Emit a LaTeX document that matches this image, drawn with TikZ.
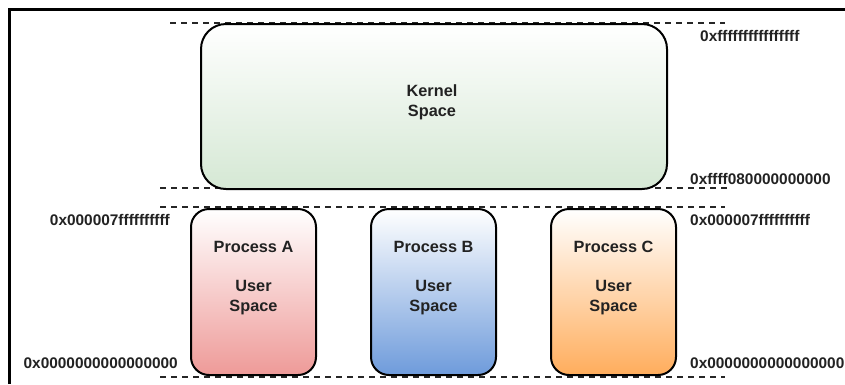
\documentclass[tikz,border=0pt]{standalone}
\usepackage{fontspec}
\setmainfont{Liberation Sans}
\usetikzlibrary{positioning,calc}
\definecolor{kernelgreen}{HTML}{D5E8D4}
\definecolor{procred}{HTML}{EE9A98}
\definecolor{procblue}{HTML}{6E9BDB}
\definecolor{procorange}{HTML}{FFAD5C}
\definecolor{txtgray}{HTML}{222222}
\tikzset{
  spacebox/.style={draw, line width=2pt, rounded corners=#1, anchor=north west, inner sep=0pt},
  spacebox/.default=18pt,
  boxtext/.style={align=center, font=\fontsize{16.3}{20}\selectfont\bfseries, text=txtgray},
  addr/.style={font=\fontsize{15.4}{18}\selectfont\bfseries, text=txtgray, inner sep=0pt},
  bound/.style={dashed, line width=1.5pt, dash pattern=on 6pt off 5pt, black!85}
}
\begin{document}
\begin{tikzpicture}[x=1pt, y=-1pt]
\useasboundingbox (0,0) rectangle (845,384);
% frame
\draw[line width=3pt] (9,384) -- (9,9) -- (845,9);
% boundaries
\draw[bound] (170,23) -- (725,23);
\draw[bound] (160,188) -- (727,188);
\draw[bound] (160,207) -- (725,207);
\draw[bound] (160,377) -- (725,377);
% kernel
\node[spacebox=25pt, minimum width=466pt, minimum height=165pt, top color=white, bottom color=kernelgreen] (kernel) at (200,23) {};
\node[boxtext] (kerneltxt) at (432,102) {Kernel\\Space};
% processes
\node[spacebox, minimum width=125pt, minimum height=166pt, top color=white, bottom color=procred] (procA) at (190,208) {};
\node[spacebox, minimum width=125pt, minimum height=166pt, top color=white, bottom color=procblue] (procB) at (370,208) {};
\node[spacebox, minimum width=125pt, minimum height=166pt, top color=white, bottom color=procorange] (procC) at (550,208) {};
\node[boxtext] (procAtxt) at ($(procA.center)+(0,-14)$) {Process A\\[19pt]User\\Space};
\node[boxtext] (procBtxt) at ($(procB.center)+(0,-14)$) {Process B\\[19pt]User\\Space};
\node[boxtext] (procCtxt) at ($(procC.center)+(0,-14)$) {Process C\\[19pt]User\\Space};
% addresses
\node[addr, anchor=west] (kerntop) at (700,36) {0xffffffffffffffff};
\node[addr, anchor=west] (kernbot) at (690,179) {0xffff080000000000};
\node[addr, anchor=east] (usertopl) at (170,220) {0x000007ffffffffff};
\node[addr, anchor=west] (usertopr) at (690,220) {0x000007ffffffffff};
\node[addr, anchor=east] (userbotl) at (178,363) {0x0000000000000000};
\node[addr, anchor=west] (userbotr) at (690,363) {0x0000000000000000};
\end{tikzpicture}
\end{document}
